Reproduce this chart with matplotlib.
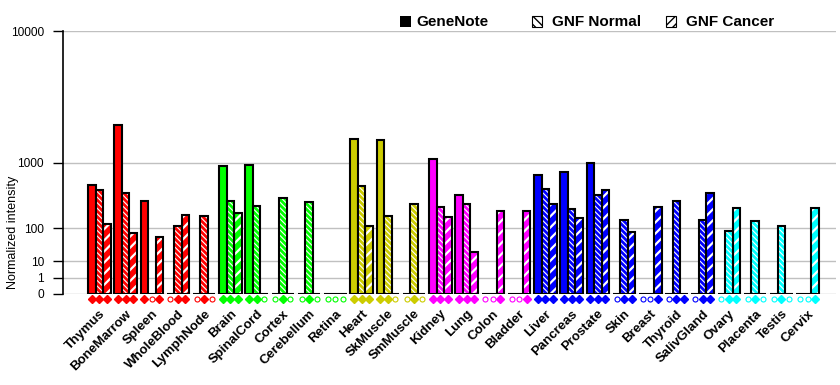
import numpy as np
import matplotlib
matplotlib.use('Agg')
import matplotlib.pyplot as plt
from matplotlib.patches import Rectangle
from matplotlib.transforms import blended_transform_factory, ScaledTranslation

plt.rcParams['font.family'] = ['Liberation Sans', 'DejaVu Sans']

tissues = ['Thymus', 'BoneMarrow', 'Spleen', 'WholeBlood', 'LymphNode',
           'Brain', 'SpinalCord', 'Cortex', 'Cerebellum', 'Retina',
           'Heart', 'SkMuscle', 'SmMuscle',
           'Kidney', 'Lung', 'Colon', 'Bladder',
           'Liver', 'Pancreas', 'Prostate', 'Skin', 'Breast', 'Thyroid', 'SalivGland',
           'Ovary', 'Placenta', 'Testis', 'Cervix']
tissue_colors = ['#FF0000'] * 5 + ['#00FF00'] * 5 + ['#CCCC00'] * 3 + \
                ['#FF00FF'] * 4 + ['#0000FF'] * 7 + ['#00FFFF'] * 4

genenote = [538, 2310, 320, 0, 0, 919, 941, 0, 0, 0, 1734, 1672, 0, 1094, 391,
            0, 0, 721, 789, 983, 0, 0, 0, 0, 0, 0, 0, 0]
gnf_normal = [460, 413, 0, 112, 177, 320, 264, 357, 310, 0, 522, 177, 285, 255, 285,
              0, 0, 479, 239, 395, 151, 0, 320, 151, 88, 144, 112, 0]
gnf_cancer = [123, 80, 64, 185, 0, 198, 0, 0, 0, 0, 112, 0, 0, 170, 23,
              220, 220, 285, 160, 456, 84, 258, 0, 422, 248, 0, 0, 248]
# present (P) / absent (A) calls: GeneNote, GNF Normal, GNF Cancer
calls = ['PPP', 'PPP', 'PAP', 'APP', 'APA', 'PPP', 'PPA', 'APA', 'APA', 'AAA',
         'PPP', 'PPA', 'APA', 'PPP', 'PPP', 'AAP', 'AAP', 'PPP', 'PPP', 'PPP',
         'APP', 'AAP', 'APP', 'APP', 'APP', 'APA', 'APA', 'AAP']

yticks = [0, 1, 10, 100, 1000, 10000]

p = np.log10(2)


def fwd(v):
    return np.power(np.clip(v, 0, None), p)


def inv(u):
    return np.power(np.clip(u, 0, None), 1.0 / p)


fig = plt.figure(figsize=(8.4, 3.85), dpi=100)
W, H = 840.0, 385.0
ax = fig.add_axes([63 / W, 1 - 294 / H, (836 - 63) / W, (294 - 31) / H])
ax.set_yscale('function', functions=(fwd, inv))

x = np.arange(len(tissues))
bw = 0.286
series = [genenote, gnf_normal, gnf_cancer]
hatches = [None, '\\\\\\\\\\\\', '///']
hatch_lw = [0, 0.8, 1.6]

for k in range(3):
    xs = x + (k - 1) * bw
    vals = np.array(series[k], dtype=float)
    if k == 0:
        ax.bar(xs, vals, bw, color=tissue_colors, edgecolor='black', linewidth=1.5, zorder=3)
    else:
        with plt.rc_context({'hatch.linewidth': hatch_lw[k]}):
            bars = ax.bar(xs, vals, bw, color=tissue_colors, edgecolor='white',
                          hatch=hatches[k], linewidth=0, zorder=3)
            for b in bars:
                try:
                    b.set_hatch_linewidth(hatch_lw[k])
                except AttributeError:
                    pass
        ax.bar(xs, vals, bw, fill=False, edgecolor='black', linewidth=1.5, zorder=4)

# call markers under the bars
trans = blended_transform_factory(ax.transData, ax.transAxes)
my = -4.5 / 263
for i in range(len(tissues)):
    for k in range(3):
        xm = x[i] + (k - 1) * bw
        if calls[i][k] == 'P':
            ax.plot(xm, my, marker='D', ms=3.6, color=tissue_colors[i], mec=tissue_colors[i],
                    transform=trans, clip_on=False, zorder=5)
        else:
            ax.plot(xm, my, marker='o', ms=3.6, mfc='white', mec=tissue_colors[i], mew=0.8,
                    transform=trans, clip_on=False, zorder=5)

ax.set_ylim(0, 10000)
ax.set_xlim(-1.383, 28.08)
ax.set_yticks(yticks)
ax.set_yticklabels([str(t) for t in yticks], fontsize=8.6)
ax.yaxis.set_minor_locator(matplotlib.ticker.NullLocator())
ax.tick_params(axis='y', length=7.2, width=1, pad=6.5)
ax.grid(axis='y', color='#C0C0C0', linewidth=1, zorder=0)
ax.set_axisbelow(True)

ax.set_xticks(x)
ax.set_xticklabels(tissues, rotation=45, ha='right', va='center',
                   rotation_mode='anchor', fontsize=9.5, fontweight='bold')
ax.tick_params(axis='x', length=0, pad=13)
shift = ScaledTranslation(4 / 100, 0, fig.dpi_scale_trans)
for lab in ax.get_xticklabels():
    lab.set_transform(lab.get_transform() + shift)

for s in ['top', 'right', 'bottom']:
    ax.spines[s].set_visible(False)
ax.spines['left'].set_linewidth(1.2)

fig.text(13 / W, 1 - 232 / H, 'Normalized intensity', rotation=90,
         ha='center', va='center', fontsize=9)

# legend drawn at the top
leg_y = 1 - 21.5 / H
fig.patches.append(Rectangle((400 / W, 1 - 27 / H), 11 / W, 11 / H, transform=fig.transFigure,
                             facecolor='black', edgecolor='black', linewidth=0))
fig.patches.append(Rectangle((532 / W, 1 - 26.5 / H), 10 / W, 10 / H, transform=fig.transFigure,
                             facecolor='white', edgecolor='black', hatch='\\\\\\\\', linewidth=0.8))
fig.patches.append(Rectangle((666 / W, 1 - 26.5 / H), 10 / W, 10 / H, transform=fig.transFigure,
                             facecolor='white', edgecolor='black', hatch='////', linewidth=0.8))
fig.text(416.5 / W, leg_y, 'GeneNote', ha='left', va='center', fontsize=11, fontweight='bold')
fig.text(551.5 / W, leg_y, 'GNF Normal', ha='left', va='center', fontsize=11, fontweight='bold')
fig.text(686.5 / W, leg_y, 'GNF Cancer', ha='left', va='center', fontsize=11, fontweight='bold')

fig.savefig('out.png', dpi=100)
